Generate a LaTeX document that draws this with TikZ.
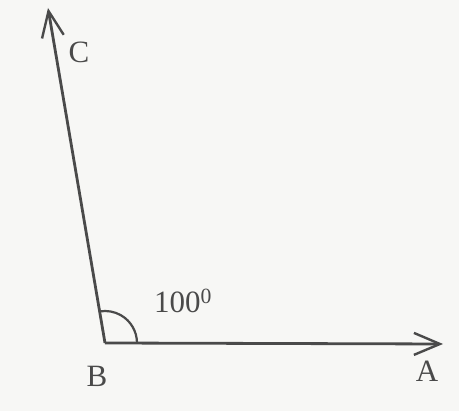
\documentclass[tikz,border=0pt]{standalone}
\usepackage{fontspec}
\setmainfont{Liberation Serif}
\usetikzlibrary{arrows.meta}
\definecolor{ink}{HTML}{4A4A4A}
\definecolor{paper}{HTML}{F7F7F5}
\begin{document}
\begin{tikzpicture}[x=1pt,y=1pt,
  ray/.style={draw=ink, line width=2.8pt, -{Straight Barb[length=26pt,width=22pt,line width=2.4pt]}},
  lbl/.style={text=ink, font=\fontsize{31}{34}\selectfont, inner sep=0pt}]
\fill[paper] (0,0) rectangle (459,411);
\useasboundingbox (0,0) rectangle (459,411);
\coordinate (B) at (105,68);
\coordinate (A) at (443,67);
\coordinate (C) at (48,403);
\draw[ray] (B) -- (A);
\draw[ray] (B) -- (C);
\draw[draw=ink, line width=2.2pt] ([shift={(0:32)}]B) arc[start angle=0, end angle=99.6, radius=32];
\node[lbl] (lC) at (79,359) {C};
\node[lbl] (lB) at (97,35) {B};
\node[lbl] (lA) at (427,40) {A};
\node[lbl, anchor=base west] (ang) at (154,98) {100\textsuperscript{0}};
\end{tikzpicture}
\end{document}
